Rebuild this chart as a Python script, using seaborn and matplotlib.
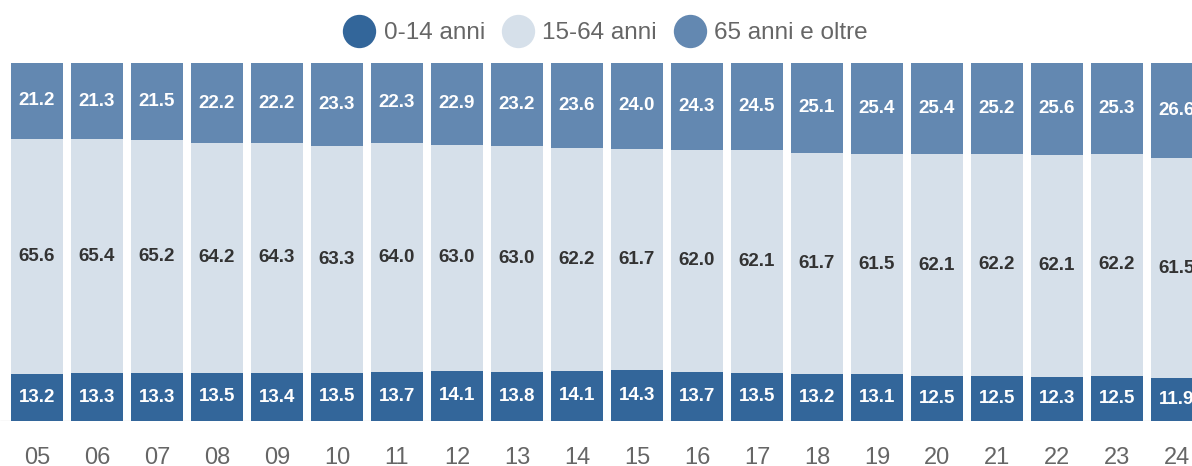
import numpy as np
import pandas as pd
import seaborn as sns
import matplotlib
matplotlib.use("Agg")
import matplotlib.pyplot as plt
from matplotlib.lines import Line2D

# dati: quota % della popolazione per classe d'eta
anni = ["05", "06", "07", "08", "09", "10", "11", "12", "13", "14",
        "15", "16", "17", "18", "19", "20", "21", "22", "23", "24"]
eta_0_14 = [13.2, 13.3, 13.3, 13.5, 13.4, 13.5, 13.7, 14.1, 13.8, 14.1,
            14.3, 13.7, 13.5, 13.2, 13.1, 12.5, 12.5, 12.3, 12.5, 11.9]
eta_15_64 = [65.6, 65.4, 65.2, 64.2, 64.3, 63.3, 64.0, 63.0, 63.0, 62.2,
             61.7, 62.0, 62.1, 61.7, 61.5, 62.1, 62.2, 62.1, 62.2, 61.5]
eta_65_oltre = [21.2, 21.3, 21.5, 22.2, 22.2, 23.3, 22.3, 22.9, 23.2, 23.6,
                24.0, 24.3, 24.5, 25.1, 25.4, 25.4, 25.2, 25.6, 25.3, 26.6]
serie = ["0-14 anni", "15-64 anni", "65 anni e oltre"]

colori = {"0-14 anni": "#33669a", "15-64 anni": "#d6e0ea", "65 anni e oltre": "#6388b1"}
col_testo = {"0-14 anni": "white", "15-64 anni": "#333333", "65 anni e oltre": "white"}

sns.set_theme(style="white")
plt.rcParams["font.family"] = ["Liberation Sans", "DejaVu Sans"]

df = pd.DataFrame({"anno": anni,
                   "0-14 anni": eta_0_14,
                   "15-64 anni": eta_15_64,
                   "65 anni e oltre": eta_65_oltre})
# cumulati per lo stack
df["c1"] = df["0-14 anni"]
df["c2"] = df["c1"] + df["15-64 anni"]
df["c3"] = df["c2"] + df["65 anni e oltre"]

fig = plt.figure(figsize=(11.92, 4.66), dpi=100)
ax = fig.add_axes([0, 45 / 466, 1, (421 - 63) / 466])

# disegno dal totale verso il basso, ogni strato copre quello sotto
for col, nome in [("c3", "65 anni e oltre"), ("c2", "15-64 anni"), ("c1", "0-14 anni")]:
    sns.barplot(data=df, x="anno", y=col, color=colori[nome], width=0.883,
                saturation=1, linewidth=0, ax=ax)

# etichette dei valori al centro di ogni segmento
for i, row in df.iterrows():
    basi = [0, row["c1"], row["c2"]]
    for nome, base in zip(serie, basi):
        v = row[nome]
        ax.text(i, base + v / 2, f"{v:.1f}", ha="center", va="center",
                fontsize=13.5, color=col_testo[nome], fontweight="bold")

ax.axhline(0, color="#e3e3e3", lw=1, zorder=0)
ax.set_xlim(-37 / 60, (1192 - 37) / 60)
ax.set_ylim(0, 100)
ax.set_xlabel("")
ax.set_ylabel("")
ax.set_yticks([])
ax.tick_params(axis="x", length=0, pad=19, labelsize=17, labelcolor="#666666")
sns.despine(ax=ax, left=True, bottom=True)

handles = [Line2D([], [], marker="o", linestyle="", markersize=24,
                  markerfacecolor=colori[s], markeredgewidth=0) for s in serie]
fig.legend(handles, serie, loc="center", bbox_to_anchor=(605 / 1192, 1 - 33 / 466),
           ncol=3, frameon=False, fontsize=17.5, labelcolor="#666666",
           handletextpad=0.3, columnspacing=0.65, handlelength=1.4)

fig.savefig("out.png", dpi=100)
